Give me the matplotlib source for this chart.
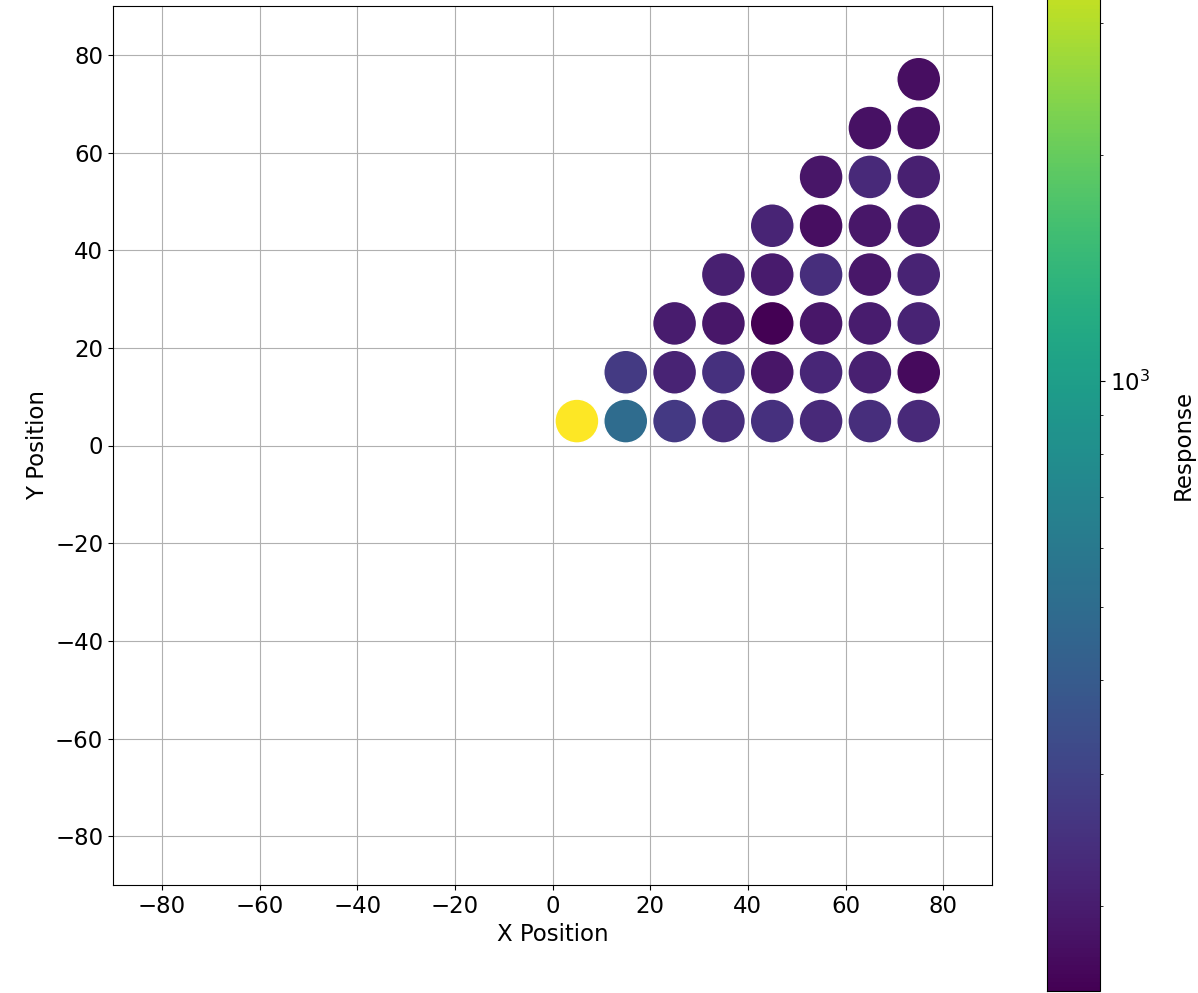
import numpy as np
import matplotlib
matplotlib.use("Agg")
import matplotlib.pyplot as plt
from matplotlib.colors import LogNorm

# grid of detector cells (centre positions) and the measured response
x_pos = [5, 15, 25, 35, 45, 55, 65, 75,
         15, 25, 35, 45, 55, 65, 75,
         25, 35, 45, 55, 65, 75,
         35, 45, 55, 65, 75,
         45, 55, 65, 75,
         55, 65, 75,
         65, 75,
         75]
y_pos = [5, 5, 5, 5, 5, 5, 5, 5,
         15, 15, 15, 15, 15, 15, 15,
         25, 25, 25, 25, 25, 25,
         35, 35, 35, 35, 35,
         45, 45, 45, 45,
         55, 55, 55,
         65, 65,
         75]
response = [4400, 498, 268, 240, 246, 226, 240, 228,
            272, 212, 245, 186, 222, 206, 168,
            200, 188, 154, 188, 200, 212,
            206, 195, 238, 188, 212,
            215, 174, 188, 200,
            186, 228, 206,
            180, 180,
            175]

plt.rcParams['font.size'] = 16.5

fig = plt.figure(figsize=(11.98, 9.93), dpi=100)
ax = fig.add_axes([113 / 1198, 108 / 993, 879 / 1198, 879 / 993])
cax = fig.add_axes([1047 / 1198, 2 / 993, 53 / 1198, 1093 / 993])

sc = ax.scatter(x_pos, y_pos, c=response, s=1000, cmap='viridis',
                norm=LogNorm(vmin=min(response), vmax=max(response)),
                edgecolors='white', linewidths=1)

ax.set_xlim(-90, 90)
ax.set_ylim(-90, 90)
ax.set_xticks(np.arange(-80, 81, 20))
ax.set_yticks(np.arange(-80, 81, 20))
ax.set_axisbelow(True)
ax.grid(True)
ax.set_xlabel('X Position')
ax.set_ylabel('Y Position')

cbar = fig.colorbar(sc, cax=cax)
cbar.set_label('Response', labelpad=16)

fig.savefig('out.png', dpi=100)
